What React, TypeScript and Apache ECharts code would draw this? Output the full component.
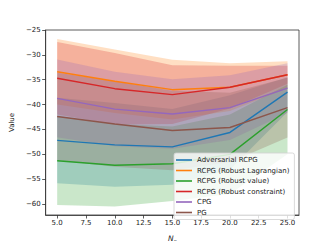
import React, { useEffect, useRef } from 'react';
import * as echarts from 'echarts';

const xs = [5, 10, 15, 20, 25];
const xTicks = [5, 7.5, 10, 12.5, 15, 17.5, 20, 22.5, 25];
const yTicks = [-60, -55, -50, -45, -40, -35, -30, -25];
const names = ['Adversarial RCPG', 'RCPG (Robust Lagrangian)', 'RCPG (Robust value)', 'RCPG (Robust constraint)', 'CPG', 'PG'];
const colors = ['#1f77b4', '#ff7f0e', '#2ca02c', '#d62728', '#9467bd', '#8c564b'];

// mean curves
const advMean = [-47.2, -48.1, -48.5, -45.6, -37.5];
const lagMean = [-33.4, -35.3, -37.0, -36.5, -34.0];
const valMean = [-51.3, -52.2, -51.9, -50.0, -41.0];
const conMean = [-34.7, -36.8, -38.0, -36.5, -34.0];
const cpgMean = [-38.75, -40.9, -41.9, -40.6, -36.7];
const pgMean = [-42.4, -43.9, -45.2, -44.6, -40.6];

// shaded band bounds
const advLo = [-55.8, -56.5, -56.1, -53.1, -41.5];
const advHi = [-38.6, -39.7, -40.9, -38.1, -34.5];
const lagLo = [-40.0, -41.7, -43.0, -41.3, -36.7];
const lagHi = [-26.8, -28.9, -31.0, -31.7, -31.3];
const valLo = [-60.2, -60.5, -59.4, -58.0, -50.0];
const valHi = [-42.4, -43.9, -44.4, -42.0, -36.0];
const conLo = [-42.0, -44.0, -43.9, -40.8, -35.8];
const conHi = [-27.4, -29.6, -32.1, -32.2, -32.2];
const cpgLo = [-46.55, -48.4, -48.9, -47.1, -41.7];
const cpgHi = [-30.95, -33.4, -34.9, -34.1, -31.7];
const pgLo = [-51.2, -52.5, -53.2, -51.6, -46.6];
const pgHi = [-33.6, -35.3, -37.2, -37.6, -34.6];

const means = [advMean, lagMean, valMean, conMean, cpgMean, pgMean];
const los = [advLo, lagLo, valLo, conLo, cpgLo, pgLo];
const his = [advHi, lagHi, valHi, conHi, cpgHi, pgHi];

const FONT = 'DejaVu Sans';
const fmtNum = (v: number, d: number) => (v < 0 ? '\u2212' : '') + Math.abs(v).toFixed(d);

export default function App() {
  const ref = useRef<HTMLDivElement>(null);
  useEffect(() => {
    if (!ref.current) return;
    const chart = echarts.init(ref.current, undefined, { renderer: 'svg' });
    const series: any[] = [];
    names.forEach((name, i) => {
      const m = means[i];
      const bandData = xs.map((x, j) => [x, los[i][j], his[i][j]]);
      series.push({
        type: 'line',
        name,
        data: xs.map((x, j) => [x, m[j]]),
        symbol: 'none',
        lineStyle: { width: 1.4, color: colors[i] },
        itemStyle: { color: colors[i] },
      });
      series.push({
        type: 'custom',
        name: 'band' + i,
        silent: true,
        data: bandData,
        encode: { x: 0, y: [1, 2] },
        renderItem: (params: any, api: any) => {
          if (params.dataIndex !== 0) return null;
          const top = bandData.map((d) => api.coord([d[0], d[2]]));
          const bot = bandData.map((d) => api.coord([d[0], d[1]])).reverse();
          return {
            type: 'polygon',
            shape: { points: top.concat(bot) },
            style: { fill: colors[i], opacity: 0.25 },
          };
        },
      });
    });
    chart.setOption({
      animation: false,
      textStyle: { fontFamily: FONT },
      grid: {
        left: 41, right: 33, top: 30, bottom: 28,
        show: true, borderColor: '#333', borderWidth: 0.8, backgroundColor: 'transparent',
      },
      xAxis: {
        type: 'value',
        min: 4,
        max: 26,
        axisLine: { show: true, lineStyle: { color: '#333', width: 0.8 } },
        axisTick: { show: true, inside: false, length: 3.5, lineStyle: { color: '#333', width: 0.8 }, customValues: xTicks },
        axisLabel: {
          customValues: xTicks,
          formatter: (v: number) => fmtNum(v, 1),
          fontSize: 7, color: '#222', margin: 4, fontFamily: FONT,
        },
        splitLine: { show: false },
        name: '{i|N}{s|s}',
        nameLocation: 'middle',
        nameGap: 18,
        nameTextStyle: {
          rich: {
            i: { fontSize: 7.5, fontStyle: 'italic', fontFamily: FONT, color: '#222' },
            s: { fontSize: 5.5, fontStyle: 'italic', fontFamily: FONT, color: '#222', padding: [5, 0, 0, 0] },
          },
        },
      },
      yAxis: {
        type: 'value',
        min: -62.2,
        max: -25,
        axisLine: { show: true, lineStyle: { color: '#333', width: 0.8 } },
        axisTick: { show: true, inside: false, length: 3.5, lineStyle: { color: '#333', width: 0.8 }, customValues: yTicks },
        axisLabel: {
          customValues: yTicks,
          formatter: (v: number) => fmtNum(v, 0),
          fontSize: 7, color: '#222', margin: 5, fontFamily: FONT,
        },
        splitLine: { show: false },
        name: 'Value',
        nameLocation: 'middle',
        nameGap: 28,
        nameRotate: 90,
        nameTextStyle: { fontSize: 7, color: '#222', fontFamily: FONT },
      },
      legend: {
        show: true,
        orient: 'vertical',
        left: 174,
        top: 153,
        data: names.map((n) => ({ name: n, icon: 'rect' })),
        itemWidth: 16,
        itemHeight: 1.6,
        itemGap: 2.5,
        padding: [3, 5, 3, 2],
        backgroundColor: 'rgba(255,255,255,0.8)',
        borderColor: '#d0d0d0',
        borderWidth: 0.8,
        borderRadius: 2,
        textStyle: { fontSize: 7, lineHeight: 8, color: '#222', fontFamily: FONT, padding: [0, 0, 0, 0] },
      },
      series,
    });
    return () => chart.dispose();
  }, []);
  return <div ref={ref} style={{ width: 332, height: 249, margin: -8 }} />;
}
